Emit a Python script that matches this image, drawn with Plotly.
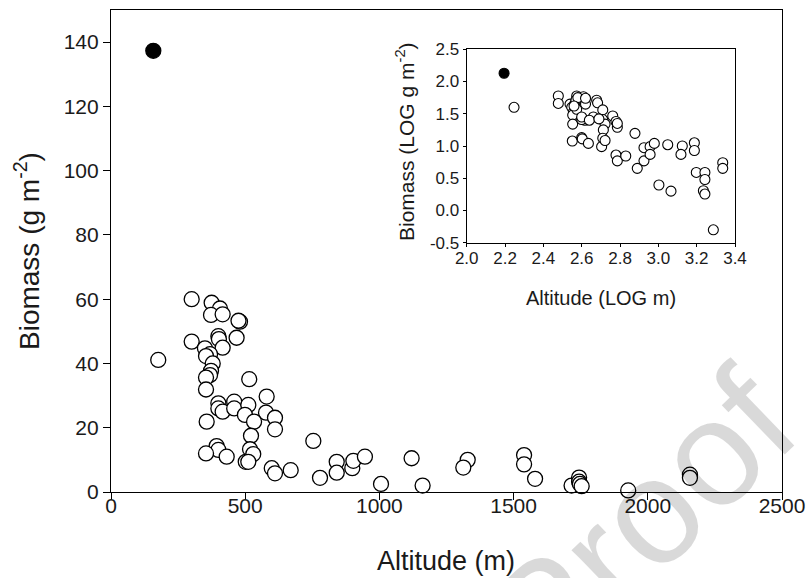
import plotly.graph_objects as go

# Main plot data (open circles)
altitude = [300.6, 375, 406, 372.6, 416, 480.6, 475, 300.6, 400, 402, 468, 416, 350, 369, 354,
            379, 372.6, 369, 354, 176, 515, 354, 580, 400, 400, 416, 459, 459, 511.6, 499,
            577.5, 611, 533, 356.5, 611, 521.6, 753.8, 393.6, 400, 354, 431, 518, 530, 502,
            511.6, 599, 611, 669.5, 778.7, 841, 841, 899, 903, 946, 1006, 1120, 1161, 1329,
            1312.6, 1539, 1539, 1580, 1716, 1744, 1744, 1747, 1753.6, 1927, 2157, 2157]
biomass = [60.0, 58.9, 57.1, 55.1, 55.3, 53.0, 53.3, 46.8, 48.5, 47.6, 48.0, 44.9, 44.7, 42.9, 42.3,
           40.0, 37.7, 36.4, 35.6, 41.1, 35.1, 31.9, 29.7, 27.6, 26.0, 25.0, 28.1, 26.0, 27.1, 24.0,
           24.7, 23.1, 21.9, 21.9, 19.5, 17.5, 15.9, 14.3, 13.1, 12.0, 11.0, 13.3, 11.8, 9.4,
           9.4, 7.4, 5.8, 6.8, 4.4, 9.4, 6.0, 7.4, 9.7, 11.0, 2.5, 10.5, 2.0, 10.0,
           7.6, 11.5, 8.6, 4.1, 2.0, 4.5, 3.2, 2.5, 1.8, 0.5, 5.4, 4.4]
# Outlier (filled circle)
out_altitude = [157.6]
out_biomass = [137.3]

# Inset data (log scale)
log_alt = [2.247, 2.478, 2.478, 2.539, 2.548, 2.557, 2.553, 2.553, 2.551, 2.565, 2.574, 2.57,
           2.574, 2.609, 2.617, 2.62, 2.617, 2.60, 2.60, 2.603, 2.635, 2.678, 2.683, 2.661,
           2.71, 2.71, 2.722, 2.713, 2.71, 2.704, 2.722, 2.762, 2.779, 2.786, 2.786, 2.779,
           2.786, 2.83, 2.878, 2.89, 2.925, 2.925, 2.957, 2.979, 2.957, 3.003, 3.049, 3.066,
           3.125, 3.118, 3.188, 3.188, 3.198, 3.243, 3.243, 3.235, 3.243, 3.287, 3.336, 3.336,
           2.58, 2.56, 2.60, 2.64, 2.69, 2.62]
log_bio = [1.60, 1.776, 1.66, 1.65, 1.60, 1.53, 1.48, 1.34, 1.077, 1.66, 1.776, 1.71,
           1.57, 1.765, 1.72, 1.65, 1.40, 1.41, 1.13, 1.11, 1.04, 1.71, 1.67, 1.45,
           1.56, 1.41, 1.34, 1.25, 1.12, 0.99, 1.085, 1.465, 1.38, 1.29, 1.35, 0.86,
           0.77, 0.845, 1.196, 0.653, 0.974, 0.77, 0.99, 1.04, 0.87, 0.395, 1.02, 0.30,
           1.0, 0.87, 1.05, 0.93, 0.59, 0.59, 0.48, 0.306, 0.255, -0.30, 0.74, 0.653,
           1.75, 1.62, 1.45, 1.40, 1.42, 1.74]
out_log_alt = [2.195]
out_log_bio = [2.128]

x_ticks = [0, 500, 1000, 1500, 2000, 2500]
y_ticks = [0, 20, 40, 60, 80, 100, 120, 140]
ix_ticks = [2.0, 2.2, 2.4, 2.6, 2.8, 3.0, 3.2, 3.4]
iy_ticks = [-0.5, 0.0, 0.5, 1.0, 1.5, 2.0, 2.5]

FONT = "Liberation Sans, Arial, Helvetica, sans-serif"
TXT = "#1a1a1a"

# plot area in pixels (for placing free text)
L, R, T, B = 111, 782, 10, 492
W, H = R - L, B - T


def px(x):
    return (x - L) / W


def py(y):
    return (B - y) / H


fig = go.Figure()
fig.add_trace(go.Scatter(x=altitude, y=biomass, mode="markers", cliponaxis=False,
                         marker=dict(size=15, color="white", line=dict(color="black", width=1.3)),
                         xaxis="x", yaxis="y", showlegend=False))
fig.add_trace(go.Scatter(x=out_altitude, y=out_biomass, mode="markers", cliponaxis=False,
                         marker=dict(size=15, color="black", line=dict(color="black", width=1.3)),
                         xaxis="x", yaxis="y", showlegend=False))
fig.add_trace(go.Scatter(x=log_alt, y=log_bio, mode="markers", cliponaxis=False,
                         marker=dict(size=10, color="white", line=dict(color="black", width=1.1)),
                         xaxis="x2", yaxis="y2", showlegend=False))
fig.add_trace(go.Scatter(x=out_log_alt, y=out_log_bio, mode="markers", cliponaxis=False,
                         marker=dict(size=10, color="black", line=dict(color="black", width=1.1)),
                         xaxis="x2", yaxis="y2", showlegend=False))

axis_common = dict(showline=True, linecolor="black", linewidth=1.2, mirror=True,
                   ticks="outside", tickcolor="black", tickwidth=1.2, showgrid=False,
                   zeroline=False, automargin=False)

fig.update_layout(
    width=808, height=578,
    margin=dict(l=L, r=808 - R, t=T, b=578 - B),
    paper_bgcolor="white", plot_bgcolor="white",
    font=dict(family=FONT, color=TXT),
    xaxis=dict(range=[0, 2500], tickvals=x_ticks, ticklen=7, ticklabelstandoff=-12,
               tickfont=dict(size=21), domain=[0, 1], anchor="y",
               **axis_common),
    yaxis=dict(range=[0, 150], tickvals=y_ticks, ticklen=7,
               tickfont=dict(size=21), domain=[0, 1], anchor="x",
               **axis_common),
    xaxis2=dict(range=[2.0, 3.4], tickvals=ix_ticks, ticktext=[f"{v:.1f}" for v in ix_ticks],
                ticklen=3, tickfont=dict(size=17), domain=[px(466.7), px(735)], anchor="y2",
                ticklabelstandoff=-3, **axis_common),
    yaxis2=dict(range=[-0.5, 2.5], tickvals=iy_ticks,
                ticktext=[f"{v:.1f}" for v in iy_ticks],
                ticklen=3, tickfont=dict(size=17), domain=[py(242.7), py(49.3)], anchor="x2",
                **axis_common),
)

# Axis titles (placed as free text to match positions)
fig.add_annotation(text="Altitude (m)", xref="paper", yref="paper", x=px(446), y=py(561),
                   xanchor="center", yanchor="middle", showarrow=False,
                   font=dict(size=27, family=FONT, color=TXT))
fig.add_annotation(text="Biomass (g m<sup>-2</sup>)", xref="paper", yref="paper",
                   x=px(27), y=py(251), xanchor="center", yanchor="middle",
                   showarrow=False, textangle=-90,
                   font=dict(size=28, family=FONT, color=TXT))
fig.add_annotation(text="Altitude (LOG m)", xref="paper", yref="paper",
                   x=px(601), y=py(298), xanchor="center", yanchor="middle", showarrow=False,
                   font=dict(size=20, family=FONT, color=TXT))
fig.add_annotation(text="Biomass (LOG g m<sup>-2</sup>)", xref="paper", yref="paper",
                   x=px(405), y=py(142), xanchor="center", yanchor="middle",
                   showarrow=False, textangle=-90,
                   font=dict(size=21, family=FONT, color=TXT))

# Watermark
fig.add_annotation(text="Proof", xref="paper", yref="paper",
                   x=px(640), y=py(522), xanchor="center", yanchor="middle",
                   showarrow=False, textangle=-44,
                   font=dict(size=150, family=FONT, color="rgba(0,0,0,0.15)"))

fig.write_html("out.html", config={"displayModeBar": False},
               post_script="document.body.style.margin='0';")
